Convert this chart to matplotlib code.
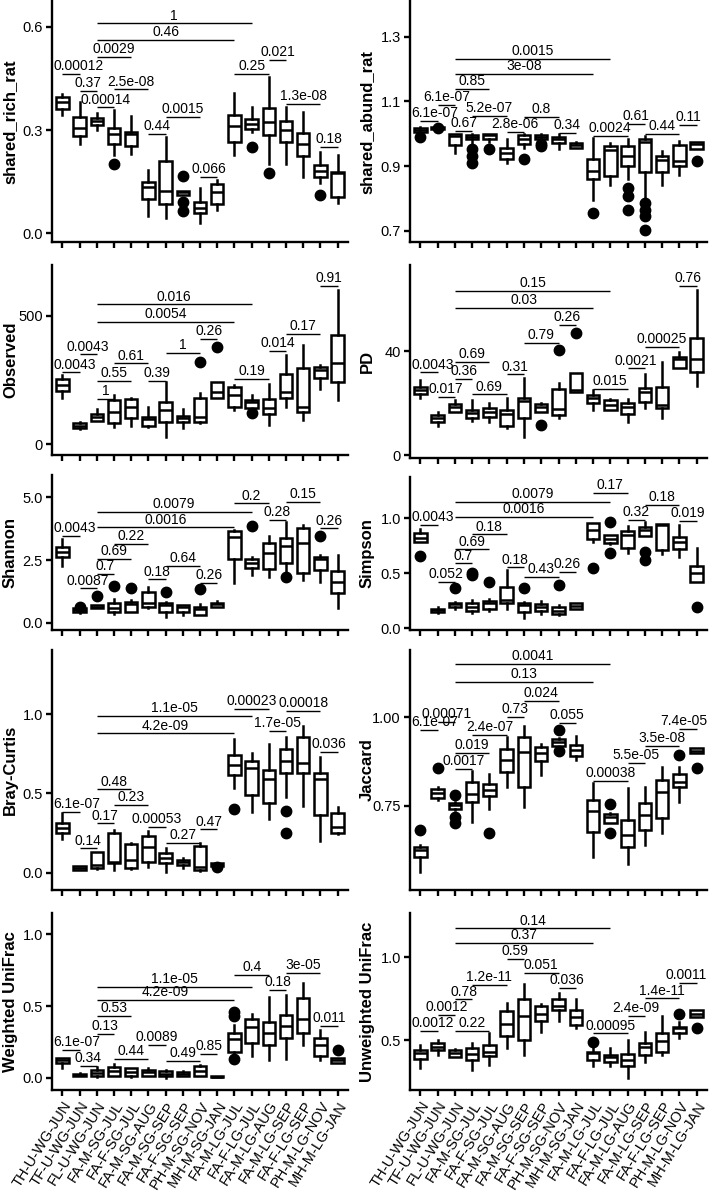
import matplotlib
matplotlib.use('Agg')
import matplotlib.pyplot as plt

plt.rcParams['font.family'] = ['Liberation Sans', 'DejaVu Sans']

# ── Groups / comparisons ────────────────────────────────────
groups = ['TH-U-WG-JUN', 'TF-U-WG-JUN', 'FL-U-WG-JUN', 'FA-M-SG-JUL', 'FA-F-SG-JUL',
          'FA-M-SG-AUG', 'FA-M-SG-SEP', 'FA-F-SG-SEP', 'PH-M-SG-NOV', 'MH-M-SG-JAN',
          'FA-M-LG-JUL', 'FA-F-LG-JUL', 'FA-M-LG-AUG', 'FA-M-LG-SEP', 'FA-F-LG-SEP',
          'PH-M-LG-NOV', 'MH-M-LG-JAN']
pairs = [(1, 2), (2, 3), (3, 4), (3, 5), (4, 6), (6, 7), (7, 9), (9, 10),
         (3, 11), (3, 12), (11, 13), (13, 14), (14, 16), (16, 17)]

# box stats per group: (lower whisker, q1, median, q3, upper whisker)
# ── shared_rich_rat ─────────────────────────────────────────
rich_stats = [(0.344, 0.36, 0.382, 0.395, 0.404), (0.261, 0.283, 0.305, 0.339, 0.382),
              (0.30, 0.315, 0.325, 0.335, 0.35), (0.227, 0.261, 0.29, 0.305, 0.358),
              (0.23, 0.255, 0.29, 0.295, 0.341), (0.05, 0.099, 0.134, 0.15, 0.184),
              (0.044, 0.085, 0.124, 0.21, 0.281), (0.112, 0.112, 0.119, 0.124, 0.124),
              (0.029, 0.058, 0.073, 0.092, 0.133), (0.068, 0.085, 0.121, 0.143, 0.155),
              (0.227, 0.266, 0.312, 0.345, 0.408), (0.295, 0.302, 0.318, 0.331, 0.368),
              (0.203, 0.286, 0.324, 0.363, 0.453), (0.203, 0.266, 0.30, 0.326, 0.366),
              (0.163, 0.226, 0.261, 0.292, 0.353), (0.145, 0.165, 0.182, 0.198, 0.237),
              (0.087, 0.105, 0.174, 0.179, 0.229)]
rich_out = [[], [], [], [0.201], [], [], [], [0.167, 0.09, 0.065], [], [], [], [0.252],
            [0.174], [], [], [0.111], []]
rich_p = ['0.00012', '0.37', '0.00014', '0.0029', '2.5e-08', '0.44', '0.0015', '0.066',
          '0.46', '1', '0.25', '0.021', '1.3e-08', '0.18']
rich_py = [0.463, 0.414, 0.366, 0.513, 0.418, 0.288, 0.339, 0.163,
           0.561, 0.61, 0.463, 0.503, 0.375, 0.252]

# ── shared_abund_rat ────────────────────────────────────────
abund_stats = [(0.995, 1.005, 1.012, 1.018, 1.021), (1.01, 1.015, 1.019, 1.022, 1.025),
               (0.941, 0.964, 0.993, 0.998, 0.998), (0.962, 0.983, 0.991, 0.995, 0.998),
               (0.975, 0.983, 0.995, 0.998, 0.998), (0.91, 0.923, 0.941, 0.957, 0.983),
               (0.955, 0.97, 0.985, 0.995, 0.998), (0.98, 0.985, 0.99, 0.995, 0.998),
               (0.952, 0.973, 0.985, 0.99, 0.998), (0.955, 0.957, 0.965, 0.972, 0.974),
               (0.796, 0.859, 0.884, 0.921, 0.988), (0.843, 0.871, 0.95, 0.962, 0.973),
               (0.859, 0.9, 0.931, 0.962, 0.983), (0.796, 0.881, 0.975, 0.985, 0.993),
               (0.843, 0.881, 0.919, 0.931, 0.947), (0.874, 0.9, 0.916, 0.965, 0.978),
               (0.954, 0.954, 0.97, 0.975, 0.975)]
abund_out = [[0.99], [1.018], [], [0.952, 0.933, 0.91], [0.954], [], [0.921], [0.97, 0.962],
             [], [], [0.755], [], [0.833, 0.807, 0.765], [0.786, 0.765, 0.745, 0.703], [], [],
             [0.916]]
abund_p = ['6.1e-07', '6.1e-07', '0.67', '0.85', '5.2e-07', '2.8e-06', '0.8', '0.34',
           '3e-08', '0.0015', '0.0024', '0.61', '0.44', '0.11']
abund_py = [1.04, 1.089, 1.009, 1.138, 1.055, 1.006, 1.053, 1.002,
            1.185, 1.232, 0.993, 1.03, 1.0, 1.028]

# ── Observed ────────────────────────────────────────────────
obs_stats = [(179, 207, 230, 254, 269), (60, 62, 72, 84, 86), (91, 91, 107, 117, 137),
             (69, 82, 127, 172, 190), (73, 104, 146, 175, 180), (66, 72, 98, 107, 146),
             (30, 85, 133, 166, 243), (62, 85, 101, 110, 136), (82, 88, 107, 179, 198),
             (179, 181, 205, 243, 243), (133, 146, 192, 224, 230), (142, 142, 166, 172, 192),
             (75, 118, 140, 175, 233), (146, 179, 205, 272, 347), (95, 127, 146, 298, 386),
             (215, 259, 289, 302, 308), (172, 243, 317, 425, 600)]
obs_out = [[], [], [], [], [], [], [], [], [321], [379], [], [120], [], [], [], [], []]
obs_p = ['0.0043', '0.0043', '1', '0.55', '0.61', '0.39', '1', '0.26',
         '0.0054', '0.016', '0.19', '0.014', '0.17', '0.91']
obs_py = [280, 350, 176, 246, 315, 246, 356, 409, 477, 544, 254, 363, 430, 616]

# ── PD ──────────────────────────────────────────────────────
pd_stats = [(21.8, 23.3, 25, 26.3, 28.8), (11.3, 12.8, 14.4, 15.4, 16.7),
            (16.7, 16.7, 18.6, 19.5, 21.2), (13.1, 14.4, 16, 17.3, 21.2),
            (12.8, 14.7, 16.7, 18.2, 19.9), (10.5, 11.2, 15.6, 17.3, 21.8),
            (7.1, 14.4, 20.8, 21.8, 29.7), (16.7, 16.7, 18.6, 19.5, 19.9),
            (14.4, 15.4, 17.6, 25.4, 27.6), (24.1, 24.1, 25, 31.4, 31.4),
            (17.3, 19.9, 21.8, 23.1, 25), (17.3, 17.3, 19.2, 21.2, 21.4),
            (12.8, 15.6, 18.6, 19.9, 21.4), (18.2, 20.5, 24.4, 25.6, 31),
            (14.4, 17.9, 19.2, 26.3, 35.6), (33.6, 33.6, 36.9, 37.8, 39.7),
            (26.7, 32.1, 36.9, 44.9, 63.5)]
pd_out = [[], [], [], [], [], [], [], [11.5], [40.4], [47], [], [], [], [], [], [], []]
pd_p = ['0.0043', '0.017', '0.36', '0.69', '0.69', '0.31', '0.79', '0.26',
        '0.03', '0.15', '0.015', '0.0021', '0.00025', '0.76']
pd_py = [31.8, 22.4, 29.2, 35.9, 23.3, 31, 43.2, 50, 56.7, 63.1, 25.4, 33.3, 41.7, 65.1]

# ── Shannon ─────────────────────────────────────────────────
shan_stats = [(2.26, 2.63, 2.83, 3.0, 3.33), (0.37, 0.44, 0.5, 0.57, 0.57),
              (0.57, 0.57, 0.64, 0.7, 0.7), (0.35, 0.44, 0.57, 0.77, 0.93),
              (0.44, 0.44, 0.73, 0.84, 0.9), (0.57, 0.64, 0.8, 1.24, 1.44),
              (0.21, 0.44, 0.7, 0.77, 0.84), (0.31, 0.44, 0.64, 0.7, 0.72),
              (0.31, 0.31, 0.53, 0.64, 0.74), (0.61, 0.61, 0.74, 0.8, 0.86),
              (1.57, 2.53, 3.43, 3.67, 3.7), (1.9, 2.17, 2.39, 2.53, 2.63),
              (1.84, 2.13, 2.79, 3.19, 3.46), (1.97, 2.37, 3.06, 3.36, 4.03),
              (1.7, 1.97, 3.17, 3.76, 3.9), (1.64, 2.1, 2.53, 2.63, 2.7),
              (0.57, 1.17, 1.64, 2.06, 2.7)]
shan_out = [[], [0.62], [1.06], [1.46], [1.37], [], [1.24], [], [1.33], [], [], [3.86], [],
            [1.84], [], [3.46], []]
shan_p = ['0.0043', '0.0087', '0.7', '0.69', '0.22', '0.18', '0.64', '0.26',
          '0.0016', '0.0079', '0.2', '0.28', '0.15', '0.26']
shan_py = [3.47, 1.37, 1.94, 2.54, 3.13, 1.73, 2.26, 1.6, 3.80, 4.43, 4.76, 4.1, 4.83, 3.76]

# ── Simpson ─────────────────────────────────────────────────
simp_stats = [(0.788, 0.788, 0.818, 0.864, 0.9), (0.136, 0.15, 0.167, 0.18, 0.197),
              (0.18, 0.197, 0.22, 0.233, 0.24), (0.136, 0.16, 0.197, 0.233, 0.258),
              (0.16, 0.173, 0.227, 0.248, 0.264), (0.173, 0.227, 0.258, 0.379, 0.53),
              (0.091, 0.15, 0.212, 0.227, 0.242), (0.13, 0.16, 0.19, 0.22, 0.25),
              (0.121, 0.13, 0.16, 0.197, 0.212), (0.18, 0.18, 0.206, 0.227, 0.227),
              (0.788, 0.809, 0.894, 0.955, 0.955), (0.77, 0.773, 0.809, 0.848, 0.85),
              (0.682, 0.727, 0.848, 0.888, 0.93), (0.839, 0.839, 0.894, 0.918, 0.97),
              (0.676, 0.712, 0.94, 0.948, 0.948), (0.652, 0.718, 0.788, 0.827, 0.94),
              (0.424, 0.424, 0.5, 0.567, 0.727)]
simp_out = [[0.658], [], [0.364], [0.5, 0.485], [0.424], [], [0.364], [], [0.394], [],
            [0.545], [0.97, 0.682], [], [0.697, 0.621], [], [], [0.197]]
simp_p = ['0.0043', '0.052', '0.7', '0.69', '0.18', '0.18', '0.43', '0.26',
          '0.0016', '0.0079', '0.17', '0.32', '0.18', '0.019']
simp_py = [0.94, 0.424, 0.591, 0.718, 0.854, 0.554, 0.47, 0.515,
           1.015, 1.151, 1.233, 0.985, 1.121, 0.979]

# ── Bray-Curtis ─────────────────────────────────────────────
bc_stats = [(0.21, 0.248, 0.284, 0.315, 0.374), (0.017, 0.017, 0.03, 0.042, 0.045),
            (0.022, 0.027, 0.048, 0.128, 0.128), (0.017, 0.06, 0.069, 0.252, 0.269),
            (0.021, 0.027, 0.08, 0.18, 0.189), (0.038, 0.069, 0.164, 0.231, 0.265),
            (0.006, 0.059, 0.09, 0.126, 0.153), (0.027, 0.048, 0.065, 0.08, 0.09),
            (0.013, 0.017, 0.038, 0.168, 0.185), (0.04, 0.04, 0.055, 0.063, 0.063),
            (0.531, 0.615, 0.678, 0.741, 0.846), (0.384, 0.489, 0.657, 0.706, 0.752),
            (0.336, 0.441, 0.588, 0.647, 0.811), (0.479, 0.63, 0.706, 0.777, 0.857),
            (0.42, 0.626, 0.693, 0.853, 0.924), (0.202, 0.363, 0.588, 0.626, 0.727),
            (0.244, 0.252, 0.29, 0.378, 0.416)]
bc_out = [[], [], [], [], [], [], [], [], [], [0.038], [0.399], [], [], [0.391, 0.248],
          [], [], []]
bc_p = ['6.1e-07', '0.14', '0.17', '0.48', '0.23', '0.00053', '0.27', '0.47',
        '4.2e-09', '1.1e-05', '0.00023', '1.7e-05', '0.00018', '0.036']
bc_py = [0.384, 0.153, 0.311, 0.525, 0.426, 0.29, 0.189, 0.273,
         0.878, 0.987, 1.035, 0.895, 1.021, 0.762]

# ── Jaccard ─────────────────────────────────────────────────
jac_stats = [(0.563, 0.604, 0.625, 0.634, 0.639), (0.766, 0.771, 0.785, 0.796, 0.804),
             (0.738, 0.74, 0.752, 0.758, 0.761), (0.705, 0.761, 0.783, 0.818, 0.849),
             (0.742, 0.777, 0.794, 0.811, 0.84), (0.804, 0.846, 0.879, 0.909, 0.943),
             (0.747, 0.804, 0.903, 0.943, 0.975), (0.837, 0.877, 0.9, 0.915, 0.924),
             (0.919, 0.919, 0.931, 0.938, 0.94), (0.879, 0.89, 0.907, 0.922, 0.947),
             (0.604, 0.676, 0.736, 0.766, 0.813), (0.7, 0.7, 0.719, 0.728, 0.73),
             (0.585, 0.634, 0.667, 0.711, 0.799), (0.639, 0.681, 0.724, 0.758, 0.804),
             (0.674, 0.714, 0.79, 0.824, 0.86), (0.761, 0.804, 0.818, 0.84, 0.86),
             (0.898, 0.898, 0.906, 0.912, 0.912)]
jac_out = [[0.681], [0.856], [0.78, 0.719, 0.7], [], [0.672], [], [], [], [0.964, 0.906],
           [], [], [0.755, 0.674], [], [], [], [0.893], [0.856]]
jac_p = ['6.1e-07', '0.00071', '0.0017', '0.019', '2.4e-07', '0.73', '0.024', '0.055',
         '0.13', '0.0041', '0.00038', '5.5e-05', '3.5e-08', '7.4e-05']
jac_py = [0.964, 0.988, 0.853, 0.9, 0.95, 1.0, 1.047, 0.983,
          1.099, 1.15, 0.821, 0.872, 0.919, 0.966]

# ── Weighted UniFrac ────────────────────────────────────────
wu_stats = [(0.065, 0.105, 0.12, 0.135, 0.14), (0.01, 0.012, 0.02, 0.027, 0.03),
            (0.005, 0.01, 0.035, 0.055, 0.075), (0.01, 0.015, 0.045, 0.075, 0.095),
            (0.005, 0.01, 0.04, 0.066, 0.07), (0.012, 0.015, 0.04, 0.055, 0.065),
            (0.0, 0.01, 0.025, 0.045, 0.055), (0.012, 0.015, 0.028, 0.04, 0.045),
            (0.01, 0.015, 0.045, 0.08, 0.09), (0.002, 0.003, 0.008, 0.012, 0.015),
            (0.17, 0.181, 0.268, 0.31, 0.37), (0.15, 0.24, 0.356, 0.407, 0.444),
            (0.123, 0.228, 0.31, 0.39, 0.565), (0.13, 0.275, 0.363, 0.437, 0.58),
            (0.228, 0.314, 0.407, 0.554, 0.658), (0.123, 0.151, 0.228, 0.275, 0.335),
            (0.1, 0.1, 0.12, 0.135, 0.135)]
wu_out = [[], [], [], [], [], [], [], [], [], [], [0.46, 0.43, 0.13], [], [], [], [], [],
          [0.193]]
wu_p = ['6.1e-07', '0.34', '0.13', '0.53', '0.44', '0.0089', '0.49', '0.85',
        '4.2e-09', '1.1e-05', '0.4', '0.18', '3e-05', '0.011']
wu_py = [0.193, 0.082, 0.305, 0.43, 0.128, 0.228, 0.116, 0.165,
         0.542, 0.635, 0.716, 0.612, 0.732, 0.36]

# ── Unweighted UniFrac ──────────────────────────────────────
uu_stats = [(0.33, 0.383, 0.42, 0.44, 0.47), (0.41, 0.44, 0.46, 0.484, 0.5),
            (0.395, 0.4, 0.424, 0.44, 0.445), (0.32, 0.38, 0.416, 0.45, 0.484),
            (0.35, 0.405, 0.43, 0.47, 0.54), (0.45, 0.525, 0.6, 0.676, 0.726),
            (0.41, 0.5, 0.645, 0.746, 0.837), (0.55, 0.615, 0.66, 0.706, 0.716),
            (0.615, 0.68, 0.706, 0.746, 0.786), (0.57, 0.59, 0.64, 0.68, 0.746),
            (0.343, 0.38, 0.424, 0.43, 0.46), (0.343, 0.365, 0.395, 0.41, 0.45),
            (0.27, 0.343, 0.38, 0.416, 0.5), (0.365, 0.41, 0.46, 0.48, 0.55),
            (0.41, 0.43, 0.496, 0.54, 0.645), (0.51, 0.54, 0.57, 0.58, 0.61),
            (0.64, 0.64, 0.66, 0.68, 0.68)]
uu_out = [[], [], [], [], [], [], [], [], [], [], [0.49], [], [], [], [], [0.66], [0.57]]
uu_p = ['0.0012', '0.0012', '0.78', '0.22', '1.2e-11', '0.59', '0.051', '0.036',
        '0.37', '0.14', '0.00095', '2.4e-09', '1.4e-11', '0.0011']
uu_py = [0.556, 0.651, 0.746, 0.556, 0.833, 0.988, 0.907, 0.813,
         1.088, 1.175, 0.54, 0.645, 0.752, 0.843]

# ── Figure / panel layout (pixels, top-left origin) ─────────
W, H = 709, 1191
fig = plt.figure(figsize=(W / 100, H / 100), dpi=100)

def add_panel(l, t, r, b):
    return fig.add_axes([l / W, 1 - b / H, (r - l) / W, (b - t) / H])

panels = [
    # stats, outliers, p labels, p heights, ylabel, ylim, yticks, yticklabels, box(l,t,r,b)
    (rich_stats, rich_out, rich_p, rich_py, 'shared_rich_rat', (-0.025, 0.675),
     [0.0, 0.3, 0.6], ['0.0', '0.3', '0.6'], (52, 1, 348, 242)),
    (abund_stats, abund_out, abund_p, abund_py, 'shared_abund_rat', (0.666, 1.41),
     [0.7, 0.9, 1.1, 1.3], ['0.7', '0.9', '1.1', '1.3'], (410, 1, 707, 242)),
    (obs_stats, obs_out, obs_p, obs_py, 'Observed', (-41.6, 697.6),
     [0, 500], ['0', '500'], (52, 265, 348, 455)),
    (pd_stats, pd_out, pd_p, pd_py, 'PD', (-1.15, 73.1),
     [0, 40], ['0', '40'], (410, 265, 707, 458)),
    (shan_stats, shan_out, shan_p, shan_py, 'Shannon', (-0.29, 5.89),
     [0.0, 2.5, 5.0], ['0.0', '2.5', '5.0'], (52, 475, 348, 630)),
    (simp_stats, simp_out, simp_p, simp_py, 'Simpson', (-0.015, 1.376),
     [0.0, 0.5, 1.0], ['0.0', '0.5', '1.0'], (410, 477, 707, 630)),
    (bc_stats, bc_out, bc_p, bc_py, 'Bray-Curtis', (-0.109, 1.404),
     [0.0, 0.5, 1.0], ['0.0', '0.5', '1.0'], (52, 650, 348, 890)),
    (jac_stats, jac_out, jac_p, jac_py, 'Jaccard', (0.512, 1.19),
     [0.75, 1.00], ['0.75', '1.00'], (410, 650, 707, 890)),
    (wu_stats, wu_out, wu_p, wu_py, 'Weighted UniFrac', (-0.086, 1.149),
     [0.0, 0.5, 1.0], ['0.0', '0.5', '1.0'], (52, 913, 348, 1090)),
    (uu_stats, uu_out, uu_p, uu_py, 'Unweighted UniFrac', (0.198, 1.268),
     [0.5, 1.0], ['0.5', '1.0'], (410, 913, 707, 1090)),
]

positions = list(range(1, len(groups) + 1))
p_texts = []

for k, (stats, outs, plabs, pys, ylab, ylim, yt, ytl, box) in enumerate(panels):
    ax = add_panel(*box)
    bstats = [dict(whislo=s[0], q1=s[1], med=s[2], q3=s[3], whishi=s[4], fliers=o)
              for s, o in zip(stats, outs)]
    ax.bxp(bstats, positions=positions, widths=0.72, patch_artist=True,
           showcaps=False, showfliers=True,
           boxprops=dict(facecolor='white', edgecolor='black', linewidth=1.8),
           medianprops=dict(color='black', linewidth=1.8),
           whiskerprops=dict(color='black', linewidth=1.8),
           flierprops=dict(marker='o', markerfacecolor='black', markeredgecolor='black',
                           markersize=7.5))

    # significance brackets
    for (i, j), lab, y in zip(pairs, plabs, pys):
        ax.plot([i, j], [y, y], color='black', linewidth=1.0, solid_capstyle='butt')
        t = ax.annotate(lab, xy=((i + j) / 2, y), xytext=(0, 0.6),
                        textcoords='offset points', ha='center', va='bottom', fontsize=10,
                        annotation_clip=False)
        p_texts.append((t, box))

    ax.set_xlim(0.4, len(groups) + 0.6)
    ax.set_ylim(*ylim)
    ax.set_yticks(yt)
    ax.set_yticklabels(ytl, fontsize=10.5)
    ax.set_xticks(positions)
    if k >= 8:
        ax.set_xticklabels(groups, rotation=58, ha='right', rotation_mode='anchor',
                           fontsize=10.5)
    else:
        ax.set_xticklabels([])
    ax.set_ylabel(ylab, fontsize=12, fontweight='bold')
    # ylabel right edge at a fixed pixel column per figure column
    lab_px = 18 if box[0] < 200 else 375
    ax.yaxis.set_label_coords((lab_px - box[0]) / (box[2] - box[0]), 0.5)
    for side in ['top', 'right']:
        ax.spines[side].set_visible(False)
    for side in ['left', 'bottom']:
        ax.spines[side].set_linewidth(1.7)
    ax.tick_params(direction='out', length=4.5, width=1.7, pad=2)
    ax.patch.set_alpha(0)

# keep p-value labels between the panel's y axis and the figure's right edge
fig.canvas.draw()
renderer = fig.canvas.get_renderer()
for t, box in p_texts:
    bb = t.get_window_extent(renderer)
    if bb.x1 > W - 2:
        shift = (bb.x1 - (W - 2)) * 72 / fig.dpi
        t.xyann = (t.xyann[0] - shift, t.xyann[1])
    elif bb.x0 < box[0] + 1:
        shift = (box[0] + 1 - bb.x0) * 72 / fig.dpi
        t.xyann = (t.xyann[0] + shift, t.xyann[1])

fig.savefig('out.png', dpi=100)
print('[Saved] out.png')
